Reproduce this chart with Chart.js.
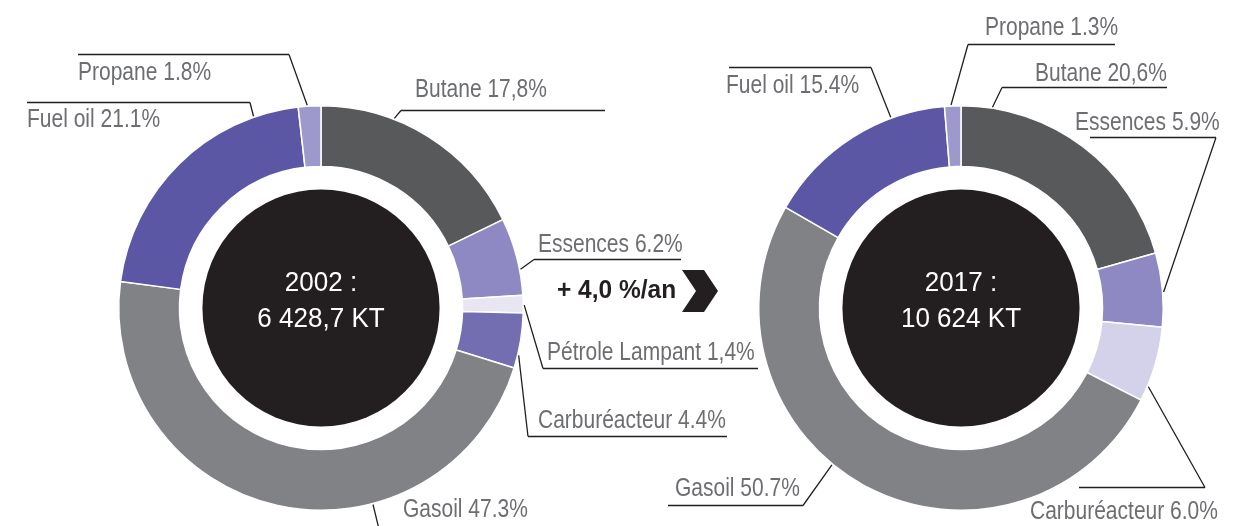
<!DOCTYPE html>
<html>
<head>
<meta charset="utf-8">
<script src="https://cdn.jsdelivr.net/npm/chart.js@4.4.1/dist/chart.umd.min.js"></script>
<style>
    html, body { margin: 0; padding: 0; background: #fff; }
    #wrap { position: relative; width: 1252px; height: 526px; overflow: hidden; }
    #wrap canvas { position: absolute; left: 0; top: 0; }
</style>
</head>
<body>
<div id="wrap">
    <canvas id="chart2002" width="1252" height="526"></canvas>
    <canvas id="chart2017" width="1252" height="526"></canvas>
</div>
<script>
// Data (shares in %)
const categories2002 = ['Butane', 'Essences', 'Pétrole Lampant', 'Carburéacteur', 'Gasoil', 'Fuel oil', 'Propane'];
const shares2002 = [17.8, 6.2, 1.4, 4.4, 47.3, 21.1, 1.8];
const center2002 = ['2002 :', '6 428,7 KT'];

const categories2017 = ['Butane', 'Essences', 'Carburéacteur', 'Gasoil', 'Fuel oil', 'Propane'];
const shares2017 = [20.6, 5.9, 6.0, 50.7, 15.4, 1.3];
const center2017 = ['2017 :', '10 624 KT'];

const growthText = '+ 4,0 %/an';

// Slice colours
const colors2002 = ['#58595b', '#8e89c2', '#e8e6f3', '#736eb2', '#808285', '#5b57a5', '#9e99cd'];
const colors2017 = ['#58595b', '#8e89c2', '#d4d2ea', '#808285', '#5b57a5', '#9e99cd'];

// Label placement (text x / baseline, underline y and span, elbow x, where the leader hits the slice)
const labelLayout2002 = [
    { tx: 415, ty: 97,  ly: 110, x1: 401, x2: 605, ex: 401, t: 0.33, comma: true },
    { tx: 538, ty: 252, ly: 259, x1: 534, x2: 681, ex: 534, t: 0.67 },
    { tx: 547, ty: 360, ly: 368, x1: 543, x2: 758, ex: 543, t: 0.55, comma: true },
    { tx: 538, ty: 428, ly: 436, x1: 528, x2: 727, ex: 528, t: 0.76 },
    { tx: 403, ty: 517, ly: 545, x1: 382, x2: 530, ex: 383, t: 0.34 },
    { tx: 27,  ty: 127, ly: 102, x1: 27,  x2: 250, ex: 250, t: 0.83 },
    { tx: 78,  ty: 80,  ly: 54,  x1: 78,  x2: 289, ex: 289, t: 0.4 }
];
const labelLayout2017 = [
    { tx: 1035, ty: 81,  ly: 87,  x1: 1002, x2: 1167, ex: 1002, t: 0.12, comma: true },
    { tx: 1075, ty: 130, ly: 137, x1: 1090, x2: 1216, ex: 1216, t: 0.53 },
    { tx: 1030, ty: 519, ly: 487, x1: 1079, x2: 1205, ex: 1205, t: 0.8 },
    { tx: 675,  ty: 496, ly: 505, x1: 668,  x2: 803,  ex: 803,  t: 0.56 },
    { tx: 726,  ty: 93,  ly: 67,  x1: 729,  x2: 871,  ex: 871,  t: 0.72 },
    { tx: 985,  ty: 35,  ly: 44,  x1: 968,  x2: 1115, ex: 968,  t: 0.4 }
];

// condensed look: regular sans squeezed horizontally
const labelFont = "25px 'Liberation Sans', Arial, sans-serif";
const labelSqueeze = 0.84;
const centerFont = "28px 'Liberation Sans', Arial, sans-serif";
const centerSqueeze = 0.93;
const growthFont = "bold 25px 'Liberation Sans', Arial, sans-serif";
const growthSqueeze = 0.98;

function formatShare(v, comma) {
    const s = v.toFixed(1);
    return (comma ? s.replace('.', ',') : s) + '%';
}

function squeezedText(ctx, text, x, y, squeeze) {
    ctx.save();
    ctx.translate(x, y);
    ctx.scale(squeeze, 1);
    ctx.fillText(text, 0, 0);
    ctx.restore();
}

// Plugin drawing the dark disc, centre text and the leader-line labels
function overlayPlugin(centerLines, categories, shares, layout, drawGrowth) {
    return {
        id: 'overlay',
        afterDraw(chart) {
            const ctx = chart.ctx;
            const arcs = chart.getDatasetMeta(0).data;
            const cx = arcs[0].x;
            const cy = arcs[0].y;
            const outer = arcs[0].outerRadius;
            const inner = arcs[0].innerRadius;

            ctx.save();
            // dark disc
            ctx.beginPath();
            ctx.arc(cx, cy, inner - 23, 0, Math.PI * 2);
            ctx.fillStyle = '#231f20';
            ctx.fill();

            ctx.fillStyle = '#ffffff';
            ctx.font = centerFont;
            ctx.textAlign = 'center';
            ctx.textBaseline = 'alphabetic';
            squeezedText(ctx, centerLines[0], cx, cy - 17, centerSqueeze);
            squeezedText(ctx, centerLines[1], cx, cy + 19, centerSqueeze);

            // labels
            ctx.font = labelFont;
            ctx.textAlign = 'left';
            ctx.strokeStyle = '#231f20';
            ctx.lineWidth = 1.3;
            layout.forEach((l, i) => {
                const arc = arcs[i];
                const a = arc.startAngle + l.t * (arc.endAngle - arc.startAngle);
                const px = cx + (outer + 1) * Math.cos(a);
                const py = cy + (outer + 1) * Math.sin(a);
                ctx.beginPath();
                ctx.moveTo(l.x1, l.ly + 0.5);
                ctx.lineTo(l.x2, l.ly + 0.5);
                ctx.moveTo(l.ex, l.ly + 0.5);
                ctx.lineTo(px, py);
                ctx.stroke();
                ctx.fillStyle = '#6d6e71';
                squeezedText(ctx, categories[i] + ' ' + formatShare(shares[i], l.comma), l.tx, l.ty, labelSqueeze);
            });

            if (drawGrowth) {
                ctx.fillStyle = '#231f20';
                ctx.font = growthFont;
                squeezedText(ctx, growthText, 557, 298, growthSqueeze);
                // chevron
                ctx.beginPath();
                ctx.moveTo(682, 270);
                ctx.lineTo(704, 270);
                ctx.lineTo(718, 291);
                ctx.lineTo(704, 312);
                ctx.lineTo(682, 312);
                ctx.lineTo(696, 291);
                ctx.closePath();
                ctx.fill();
            }
            ctx.restore();
        }
    };
}

function drawDoughnut(canvasId, categories, shares, colors, padding, centerLines, layout, drawGrowth) {
    const ctx = document.getElementById(canvasId).getContext('2d');
    return new Chart(ctx, {
        type: 'doughnut',
        data: {
            labels: categories,
            datasets: [{
                data: shares,
                backgroundColor: colors,
                borderColor: '#ffffff',
                borderWidth: 1.5
            }]
        },
        options: {
            responsive: false,
            animation: false,
            cutout: '70%',
            layout: { padding: padding },
            plugins: {
                legend: { display: false },
                tooltip: { enabled: false }
            }
        },
        plugins: [overlayPlugin(centerLines, categories, shares, layout, drawGrowth)]
    });
}

window.onload = function() {
    drawDoughnut('chart2002', categories2002, shares2002, colors2002,
        { left: 118, right: 728, top: 105, bottom: 15 }, center2002, labelLayout2002, true);
    drawDoughnut('chart2017', categories2017, shares2017, colors2017,
        { left: 758, right: 88, top: 105, bottom: 15 }, center2017, labelLayout2017, false);
};
</script>
</body>
</html>
